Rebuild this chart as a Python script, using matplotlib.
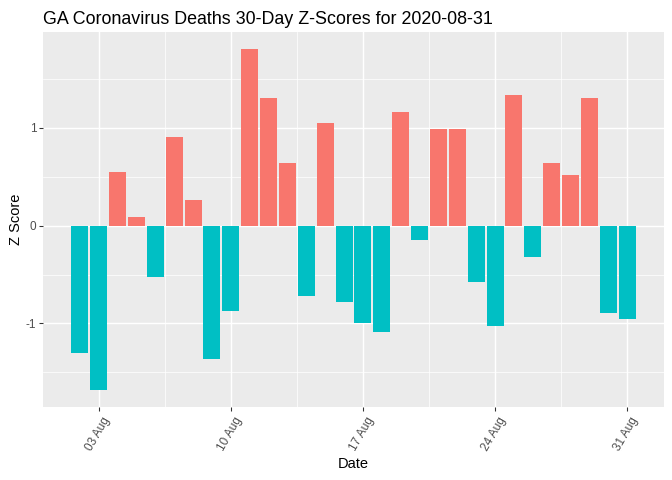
import matplotlib
matplotlib.use("Agg")
import matplotlib.pyplot as plt
import matplotlib.dates as mdates
import matplotlib.transforms as mtransforms
import numpy as np
import pandas as pd

plt.rcParams['font.family'] = ['Liberation Sans', 'DejaVu Sans']

title = "GA Coronavirus Deaths 30-Day Z-Scores for 2020-08-31"
start_date = "2020-08-02"
end_date = "2020-08-31"
z_scores = [-1.30, -1.68, 0.546, 0.085, -0.52, 0.904, 0.259, -1.36, -0.87, 1.806,
            1.304, 0.638, -0.72, 1.048, -0.78, -1.00, -1.09, 1.161, -0.145, 0.987,
            0.987, -0.58, -1.03, 1.335, -0.32, 0.638, 0.515, 1.304, -0.89, -0.95]
tick_dates = ["2020-08-03", "2020-08-10", "2020-08-17", "2020-08-24", "2020-08-31"]
y_ticks = [-1, 0, 1]

POS = "#F8766D"
NEG = "#00BFC4"

dates = pd.date_range(start_date, end_date, freq="D")
x = mdates.date2num(dates.to_pydatetime())
vals = np.array(z_scores)
colors = [POS if v >= 0 else NEG for v in vals]

fig = plt.figure(figsize=(7, 5), dpi=96)
W, H = 672, 480
ax = fig.add_axes([43 / W, 1 - 407 / H, (664 - 43) / W, (407 - 32) / H])
ax.set_facecolor("#EBEBEB")

ax.bar(x, vals, width=0.9, color=colors, zorder=3)

lo, hi = x.min() - 0.45, x.max() + 0.45
pad = 0.05 * (hi - lo)
ax.set_xlim(lo - pad, hi + pad)
ylo, yhi = min(vals.min(), 0), max(vals.max(), 0)
ypad = 0.05 * (yhi - ylo)
ax.set_ylim(ylo - ypad, yhi + ypad)

xt = mdates.date2num(pd.to_datetime(tick_dates).to_pydatetime())
ax.set_xticks(xt)
ax.set_xticklabels([""] * len(xt))
offset = mtransforms.ScaledTranslation(3 / 96, -8 / 96, fig.dpi_scale_trans)
for xv, d in zip(xt, tick_dates):
    ax.text(xv, 0, pd.Timestamp(d).strftime("%d %b"),
            transform=ax.get_xaxis_transform() + offset,
            rotation=60, ha="right", va="top", rotation_mode="anchor",
            fontsize=8.8, color="#4D4D4D", clip_on=False)
minor_x = (xt[:-1] + xt[1:]) / 2
ax.set_xticks(minor_x, minor=True)
ax.set_yticks(y_ticks)
ax.set_yticklabels([str(t) for t in y_ticks], fontsize=8.8, color="#4D4D4D")
ax.set_yticks([-1.5, -0.5, 0.5, 1.5], minor=True)

ax.grid(True, which="major", color="white", linewidth=1.1, zorder=0)
ax.grid(True, which="minor", color="white", linewidth=0.55, zorder=0)
ax.set_axisbelow(True)
ax.tick_params(which="major", length=2.75, width=0.8, color="#333333", pad=2.2)
ax.tick_params(which="minor", length=0)
for s in ax.spines.values():
    s.set_visible(False)

fig.text((43 + 664) / 2 / W, 1 - 464 / H, "Date", fontsize=11, color="black",
         ha="center", va="center")
ax.set_ylabel("Z Score", fontsize=11, color="black", labelpad=2.5)
fig.text(43 / W, 1 - 24 / H, title, fontsize=13.4, color="black", ha="left", va="baseline")

fig.savefig("out.png", dpi=96)
